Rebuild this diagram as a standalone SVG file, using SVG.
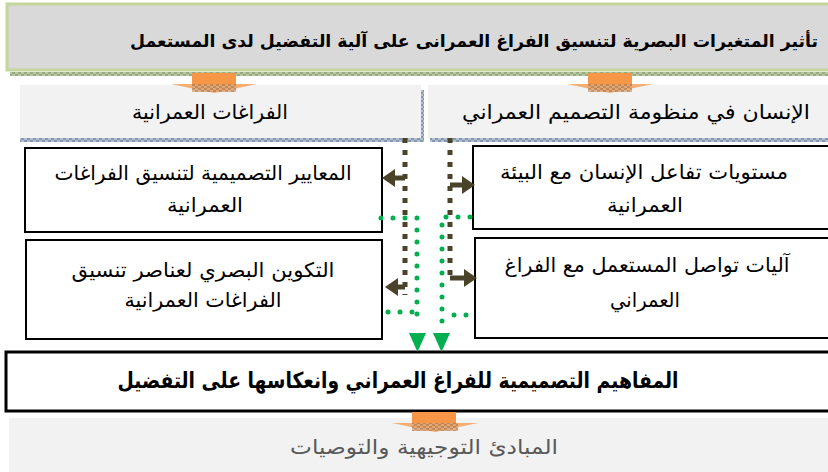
<svg xmlns="http://www.w3.org/2000/svg" width="828" height="472" viewBox="0 0 828 472">
<style>
.t{font-family:"DejaVu Sans",sans-serif;fill:#000;text-anchor:middle}
.b{font-weight:bold}
.box{fill:#fff;stroke:#000;stroke-width:2}
.edge{fill:none;stroke:#000;stroke-width:2}
.lt{fill:#f2f2f2}
.brown{fill:none;stroke:#4a4229;stroke-width:5;stroke-dasharray:5 7}
.brsh{fill:none;stroke:#4a4229;stroke-width:5}
.green{fill:none;stroke:#00b050;stroke-width:5;stroke-linecap:round;stroke-dasharray:0 12}
.ga{fill:#00b050}
.ba{fill:#4a4229}
.or{fill:#f79646}
</style>
<defs>
<pattern id="hg" width="6" height="4" patternUnits="userSpaceOnUse">
<rect width="6" height="4" fill="#b7c99a"/>
<rect width="3" height="2" fill="#9aa88a"/>
<rect x="3" y="2" width="3" height="2" fill="#9aa88a"/>
</pattern>
<pattern id="hb" width="6" height="4" patternUnits="userSpaceOnUse">
<rect width="6" height="4" fill="#b4bfd0"/>
<rect width="3" height="2" fill="#8496b0"/>
<rect x="3" y="2" width="3" height="2" fill="#8496b0"/>
</pattern>
<pattern id="ho" width="6" height="4" patternUnits="userSpaceOnUse">
<rect width="6" height="4" fill="#d9a57a"/>
<rect width="3" height="2" fill="#b8804e"/>
<rect x="3" y="2" width="3" height="2" fill="#b8804e"/>
</pattern>
</defs>

<g id="title">
<rect x="7" y="4" width="821" height="66" fill="#d9d9d9"/>
<path d="M828,4 H7 V70 H828" fill="none" stroke="#c3d69b" stroke-width="3"/>
<rect x="10" y="72" width="818" height="4" fill="url(#hg)"/>
<text class="t b" x="474" y="47" font-size="17.4" textLength="688" lengthAdjust="spacingAndGlyphs">تأثير المتغيرات البصرية لتنسيق الفراغ العمرانى على آلية التفضيل لدى المستعمل</text>
</g>

<g id="spaces">
<rect x="20" y="85" width="401" height="54" class="lt"/>
<rect x="421" y="90" width="3" height="52" fill="url(#hb)"/>
<rect x="20" y="138" width="401" height="4" fill="url(#hb)"/>
<text class="t" x="210" y="119" font-size="20" textLength="156" lengthAdjust="spacingAndGlyphs">الفراغات العمرانية</text>
</g>

<g id="human">
<rect x="428" y="85" width="400" height="54" class="lt"/>
<rect x="430" y="138" width="398" height="4" fill="url(#hb)"/>
<text class="t" x="636" y="119" font-size="20" textLength="348" lengthAdjust="spacingAndGlyphs">الإنسان في منظومة التصميم العمراني</text>
</g>

<g id="arrow-top-left">
<rect x="192" y="73" width="44" height="12" class="or"/>
<polygon points="171,84 257,84 214,93" class="or" opacity="0.75"/>
<rect x="192" y="84" width="44" height="8" fill="url(#ho)" opacity="0.8"/>
</g>
<g id="arrow-top-right">
<rect x="588" y="73" width="44" height="12" class="or"/>
<polygon points="567,84 653,84 610,93" class="or" opacity="0.75"/>
<rect x="588" y="84" width="44" height="8" fill="url(#ho)" opacity="0.8"/>
</g>

<g id="criteria">
<rect x="25" y="148" width="357" height="84" class="box"/>
<text class="t" x="203" y="180" font-size="20" textLength="297" lengthAdjust="spacingAndGlyphs">المعايير التصميمية لتنسيق الفراغات</text>
<text class="t" x="205" y="212" font-size="20" textLength="76" lengthAdjust="spacingAndGlyphs">العمرانية</text>
</g>

<g id="composition">
<rect x="26" y="240" width="356" height="99" class="box"/>
<text class="t" x="203" y="277" font-size="20" textLength="263" lengthAdjust="spacingAndGlyphs">التكوين البصري لعناصر تنسيق</text>
<text class="t" x="203" y="307" font-size="20" textLength="157" lengthAdjust="spacingAndGlyphs">الفراغات العمرانية</text>
</g>

<g id="levels">
<rect x="473" y="146" width="355" height="83" fill="#fff"/>
<path class="edge" d="M828,146 H473 V229 H828"/>
<text class="t" x="644" y="179" font-size="20" textLength="288" lengthAdjust="spacingAndGlyphs">مستويات تفاعل الإنسان مع البيئة</text>
<text class="t" x="645" y="212" font-size="20" textLength="76" lengthAdjust="spacingAndGlyphs">العمرانية</text>
</g>

<g id="mechanisms">
<rect x="475" y="238" width="353" height="100" fill="#fff"/>
<path class="edge" d="M828,238 H475 V338 H828"/>
<text class="t" x="647" y="272" font-size="20" textLength="285" lengthAdjust="spacingAndGlyphs">آليات تواصل المستعمل مع الفراغ</text>
<text class="t" x="645" y="307" font-size="20" textLength="70" lengthAdjust="spacingAndGlyphs">العمراني</text>
</g>

<g id="concepts">
<rect x="6" y="352" width="822" height="59" fill="#fff"/>
<path d="M828,352 H6 V411 H828" fill="none" stroke="#000" stroke-width="3"/>
<text class="t b" x="398" y="388" font-size="22" textLength="561" lengthAdjust="spacingAndGlyphs">المفاهيم التصميمية للفراغ العمراني وانعكاسها على التفضيل</text>
</g>

<g id="principles">
<rect x="9" y="418" width="819" height="54" class="lt"/>
<text class="t" x="424" y="454" font-size="20" style="fill:#595959" textLength="268" lengthAdjust="spacingAndGlyphs">المبادئ التوجيهية والتوصيات</text>
</g>

<g id="arrow-bottom">
<rect x="412" y="412" width="44" height="12" class="or"/>
<polygon points="392,423 478,423 435,432" class="or" opacity="0.75"/>
<rect x="412" y="423" width="46" height="8" fill="url(#ho)" opacity="0.8"/>
</g>

<g id="connectors">
<path class="brown" d="M405,138 V295"/>
<path class="brown" d="M450,138 V278"/>
<path class="brsh" d="M405,178 H394"/>
<polygon class="ba" points="395,169 382,178 395,187"/>
<path class="brsh" d="M405,287 H397"/>
<polygon class="ba" points="398,278 385,287 398,296"/>
<path class="brsh" d="M450,185 H463"/>
<polygon class="ba" points="462,176 475,185 462,194"/>
<path class="brsh" d="M450,278 H465"/>
<polygon class="ba" points="464,269 477,278 464,287"/>
<path class="green" d="M381,218 H417 V326"/>
<path class="green" d="M388,312 H417"/>
<path class="green" d="M470,217 H442 V326"/>
<path class="green" d="M466,315 H442"/>
<polygon class="ga" points="409,333 426,333 417.5,352"/>
<polygon class="ga" points="433,333 450,333 441.5,352"/>
</g>
</svg>
